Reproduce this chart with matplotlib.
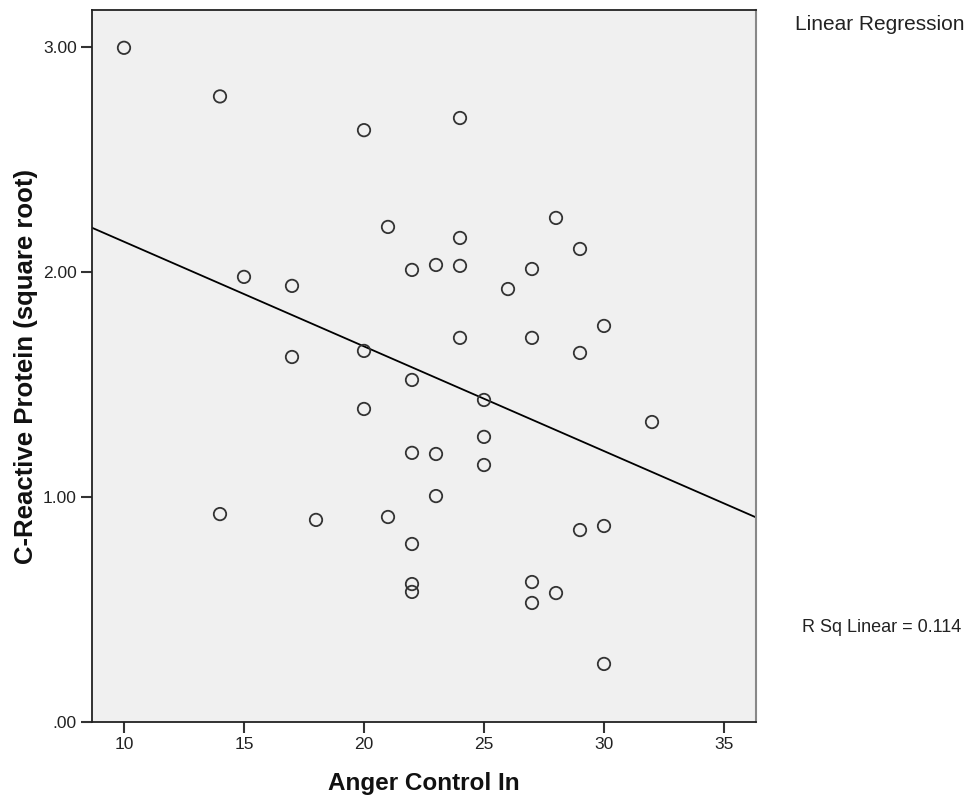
import numpy as np
import matplotlib
matplotlib.use("Agg")
import matplotlib.pyplot as plt

plt.rcParams['font.family'] = ['Liberation Sans', 'DejaVu Sans']

anger_control_in = [10, 14, 20, 24, 21, 28, 24, 29, 15, 22, 23, 24, 27, 17, 26, 30, 24, 27,
                    20, 29, 17, 22, 25, 20, 32, 25, 22, 23, 25, 23, 14, 18, 21, 30, 29, 22,
                    22, 22, 27, 28, 27, 30]
crp_sqrt = [2.996, 2.78, 2.63, 2.684, 2.20, 2.24, 2.151, 2.102, 1.978, 2.009, 2.031, 2.027,
            2.013, 1.938, 1.924, 1.76, 1.707, 1.707, 1.649, 1.64, 1.622, 1.52, 1.431, 1.391,
            1.333, 1.267, 1.196, 1.191, 1.142, 1.004, 0.924, 0.898, 0.911, 0.871, 0.853,
            0.791, 0.613, 0.578, 0.622, 0.573, 0.529, 0.258]
x_ticks = [10, 15, 20, 25, 30, 35]
y_ticks = [0.0, 1.0, 2.0, 3.0]
y_tick_labels = ['.00', '1.00', '2.00', '3.00']
r_sq_text = 'R Sq Linear = 0.114'

x = np.array(anger_control_in, dtype=float)
y = np.array(crp_sqrt, dtype=float)

fig = plt.figure(figsize=(9.74, 8.05), dpi=100)
ax = fig.add_axes([92/974, 1 - 722/805, (756 - 92)/974, (722 - 10)/805])
ax.set_facecolor('#f0f0f0')

xlim = (8.667, 36.333)
ylim = (0.0, 3.164)
ax.set_xlim(*xlim)
ax.set_ylim(*ylim)

slope, intercept = np.polyfit(x, y, 1)
xl = np.array(xlim)
ax.plot(xl, slope * xl + intercept, color='black', lw=1.3, zorder=2)

ax.scatter(x, y, s=80, facecolors='none', edgecolors='#333333', linewidths=1.3, zorder=3)

ax.set_xticks(x_ticks)
ax.set_xticklabels([str(t) for t in x_ticks])
ax.set_yticks(y_ticks)
ax.set_yticklabels(y_tick_labels)
ax.tick_params(axis='both', direction='out', length=8, width=1.5, color='#333333',
               labelsize=12.5, labelcolor='#222222', pad=3)

for s in ['left', 'bottom', 'top']:
    ax.spines[s].set_color('#222222')
    ax.spines[s].set_linewidth(1.3)
ax.spines['right'].set_color('#888888')
ax.spines['right'].set_linewidth(1.5)

ax.set_xlabel('Anger Control In', fontsize=17.5, fontweight='bold', color='#111111')
ax.set_ylabel('C-Reactive Protein (square root)', fontsize=18.5, fontweight='bold', color='#111111')
ax.xaxis.set_label_coords(0.5, -(772 - 722) / 712)
ax.yaxis.set_label_coords(-(92 - 38) / 664, 0.5)

fig.text(795/974, 1 - 25/805, 'Linear Regression', fontsize=15, color='#222222',
         ha='left', va='center')
fig.text(802/974, 1 - 627/805, r_sq_text, fontsize=13, color='#222222',
         ha='left', va='center')

fig.savefig('out.png', dpi=100)
